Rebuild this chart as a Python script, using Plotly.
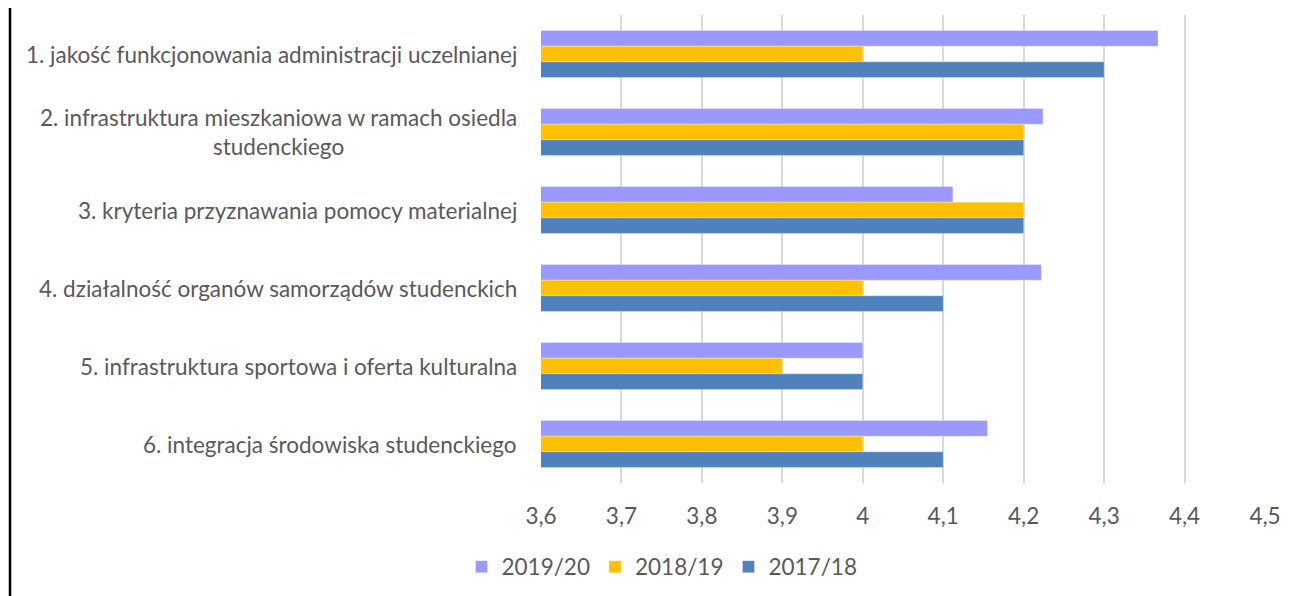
import plotly.graph_objects as go

categories = [
    "1. jakość funkcjonowania administracji uczelnianej",
    "2. infrastruktura mieszkaniowa w ramach osiedla<br>studenckiego",
    "3. kryteria przyznawania pomocy materialnej",
    "4. działalność organów samorządów studenckich",
    "5. infrastruktura sportowa i oferta kulturalna",
    "6. integracja środowiska studenckiego",
]
series_names = ["2019/20", "2018/19", "2017/18"]
v2019 = [4.367, 4.224, 4.112, 4.222, 4.0, 4.155]
v2018 = [4.0, 4.2, 4.2, 4.0, 3.9, 4.0]
v2017 = [4.3, 4.2, 4.2, 4.1, 4.0, 4.1]
colors = ["#9999FF", "#FFC000", "#4F81BD"]
tick_vals = [3.6, 3.7, 3.8, 3.9, 4.0, 4.1, 4.2, 4.3, 4.4, 4.5]
tick_text = ["3,6", "3,7", "3,8", "3,9", "4", "4,1", "4,2", "4,3", "4,4", "4,5"]

OFF = 8  # default body margin of the page
W, H = 1293 - OFF, 596 - OFF
L, R, T, B = 541 - OFF, 28, 15 - OFF, 113
font_family = "Lato, 'Open Sans', sans-serif"
text_color = "#595959"
FS = 22.5

fig = go.Figure()
for name, vals, col in zip(series_names, [v2019, v2018, v2017], colors):
    fig.add_trace(go.Bar(
        y=list(range(len(categories))), x=vals, name=name, orientation="h",
        marker=dict(color=col, line=dict(color="rgba(255,255,255,0.6)", width=0.5)),
        base=0,
    ))

pw = W - L - R
ph = H - T - B

for i, c in enumerate(categories):
    fig.add_annotation(
        x=-22 / pw, xref="paper", y=i, yref="y",
        text=c, showarrow=False, xanchor="right", align="center",
        font=dict(family=font_family, size=FS, color=text_color),
    )

fig.add_shape(type="line", xref="paper", yref="paper",
              x0=(10 - OFF - L) / pw, x1=(10 - OFF - L) / pw,
              y0=-(H - T - ph) / ph - 0.05, y1=1 + T / ph + 0.05,
              line=dict(color="black", width=2.5))

fig.update_layout(
    width=W, height=H,
    margin=dict(l=L, r=R, t=T, b=B),
    barmode="group", bargap=0.4, bargroupgap=0,
    plot_bgcolor="white", paper_bgcolor="white",
    separators=", ",
    font=dict(family=font_family, size=FS, color=text_color),
    legend=dict(orientation="h", x=(662 - OFF - L) / pw, xanchor="center",
                y=-(567 - (596 - B)) / ph, yanchor="middle",
                font=dict(size=FS, color=text_color), traceorder="normal",
                itemwidth=30),
    showlegend=True,
)
fig.update_xaxes(range=[3.6, 4.5], tickvals=tick_vals, ticktext=tick_text,
                 showgrid=True, gridcolor="#D9D9D9", gridwidth=1.5,
                 zeroline=False, showline=False, ticks="",
                 ticklabelstandoff=17,
                 tickfont=dict(size=FS, color=text_color))
fig.update_yaxes(range=[5.5, -0.5], showticklabels=False, showgrid=False,
                 zeroline=False, showline=False, ticks="",
                 tickvals=list(range(len(categories))))

fig.write_html("out.html")
